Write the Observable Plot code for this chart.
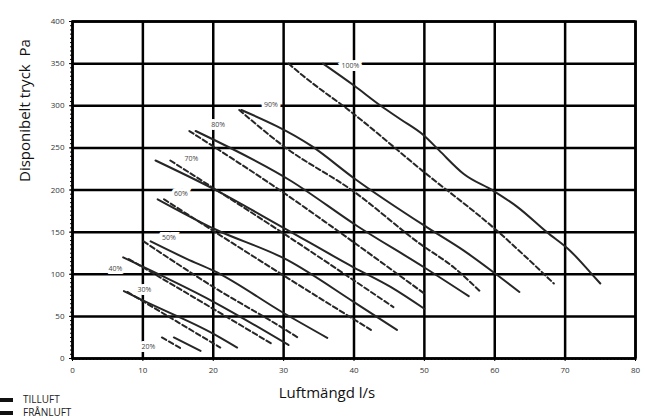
<!DOCTYPE html>
<html><head><meta charset="utf-8">
<script src="https://cdn.jsdelivr.net/npm/d3@7"></script>
<script src="https://cdn.jsdelivr.net/npm/@observablehq/plot@0.6"></script>
<style>
body{margin:0;background:#fff;font-family:"Open Sans",sans-serif;}
#wrap{position:relative;width:645px;height:418px;overflow:hidden;}
#legend{position:absolute;left:0;top:393px;font-size:10px;line-height:13px;color:#222;}
.item{display:flex;align-items:center;height:13px;}
.sw{width:13px;height:4px;background:#111;margin-right:10px;}
</style></head><body><div id="wrap"><div id="chart"></div><div id="legend"></div></div>
<script>
// Axis ticks
const xTicks = d3.range(0, 81, 10);
const yTicks = d3.range(0, 401, 50);

// TILLUFT (solid) curves: [luftmängd l/s, tryck Pa]
const t20 = [[14.4,25],[18.2,9]];
const t30 = [[7.3,80],[10,69],[20.1,29],[23.4,13]];
const t40 = [[7.2,120],[20.1,67],[30.7,16]];
const t50 = [[11.1,139],[16.3,118],[20.1,104],[30,54],[36.2,24.5]];
const t60 = [[12.1,189],[20.1,154],[30.5,117],[40,67],[46.1,34]];
const t70 = [[11.8,235],[20.1,201],[29.8,156],[40,108],[45.2,85],[50,59]];
const t80 = [[17.5,270],[31,211],[40.5,157],[50,108],[56.3,74]];
const t90 = [[24,295],[34,252],[40,214],[50.5,155],[55.6,128],[60.2,100],[63.5,79]];
const t100 = [[35.6,350],[40,324],[43.8,300],[46.6,284],[49.9,265],[52.1,247],[55.6,219],[59.8,199],[63.2,180],[67.4,150],[70.7,128],[73.6,102],[75,89]];

// FRÅNLUFT (dashed) curves
const f20 = [[12.7,25],[15.6,11]];
const f30 = [[7.8,79],[21,13]];
const f40 = [[8,118],[12.5,96],[28.4,17]];
const f50 = [[10.1,139],[20,85],[30.1,35],[32.1,24.5]];
const f60 = [[13,189],[30,98.5],[42.4,34]];
const f70 = [[13.9,235],[29.7,150],[45.6,61]];
const f80 = [[16.6,270],[31,191],[36.6,158],[50,77]];
const f90 = [[23.7,295],[30,252],[40,198],[49.4,136],[54.2,108],[58,79]];
const f100 = [[30.7,350],[32.4,338],[40,290],[49.7,223],[60,154],[68.4,89]];

// Curve labels
const labelText = ["20%","30%","40%","50%","60%","70%","80%","90%","100%"];
const labelX = [10.8,10.2,6.1,13.7,15.4,16.9,20.7,28.2,39.5];
const labelY = [14,81.5,106,143,195,237,277,301,347.5];

const tilluft = [t20,t30,t40,t50,t60,t70,t80,t90,t100];
const franluft = [f20,f30,f40,f50,f60,f70,f80,f90,f100];
const toRows = (arr, kind) => arr.flatMap((s, i) => s.map(([x, y]) => ({x, y, key: kind + labelText[i]})));
const solidRows = toRows(tilluft, "t");
const dashRows = toRows(franluft, "f");
const labels = labelText.map((t, i) => ({t, x: labelX[i], y: labelY[i]}));

const chart = Plot.plot({
  width: 645, height: 410,
  marginLeft: 72, marginRight: 10, marginTop: 21, marginBottom: 52,
  style: {fontFamily: "'Open Sans', sans-serif", background: "#fff"},
  x: {domain: [0, 80]},
  y: {domain: [0, 400]},
  marks: [
    Plot.ruleX(xTicks, {stroke: "#000", strokeWidth: 2.5}),
    Plot.ruleY(yTicks, {stroke: "#000", strokeWidth: 2.5}),
    Plot.frame({stroke: "#000", strokeWidth: 2.5}),
    Plot.axisX({ticks: d3.range(0, 80.01, 0.5), tickSize: 2, tickFormat: () => "", stroke: "#000", label: null}),
    Plot.axisY({ticks: d3.range(0, 401, 5), tickSize: 2, tickFormat: () => "", stroke: "#000", label: null}),
    Plot.axisX({ticks: xTicks, tickSize: 3, tickPadding: 6, fontSize: 8, fill: "#333", label: null}),
    Plot.axisY({ticks: yTicks, tickSize: 3, tickPadding: 5, fontSize: 8, fill: "#333", label: null}),
    Plot.line(solidRows, {x: "x", y: "y", z: "key", curve: "monotone-x", stroke: "#262626", strokeWidth: 2}),
    Plot.line(dashRows, {x: "x", y: "y", z: "key", curve: "monotone-x", stroke: "#262626", strokeWidth: 2, strokeDasharray: "5,3"}),
    Plot.text(labels, {x: "x", y: "y", text: "t", fontSize: 7, fill: "#444", stroke: "#fff", strokeWidth: 6, strokeLinejoin: "miter"}),
    Plot.text(["Luftmängd l/s"], {frameAnchor: "bottom", text: d => d, dx: -27, dy: 39, fontSize: 15, fill: "#111"}),
    Plot.text(["Disponibelt tryck  Pa"], {frameAnchor: "left", text: d => d, rotate: -90, dx: -47, dy: -8, fontSize: 15, fill: "#111"})
  ]
});
document.getElementById("chart").appendChild(chart);

const legendItems = ["TILLUFT", "FRÅNLUFT"];
const lg = document.getElementById("legend");
legendItems.forEach(t => {
  const d = document.createElement("div"); d.className = "item";
  d.innerHTML = '<span class="sw"></span><span>' + t + '</span>';
  lg.appendChild(d);
});
</script></body></html>
